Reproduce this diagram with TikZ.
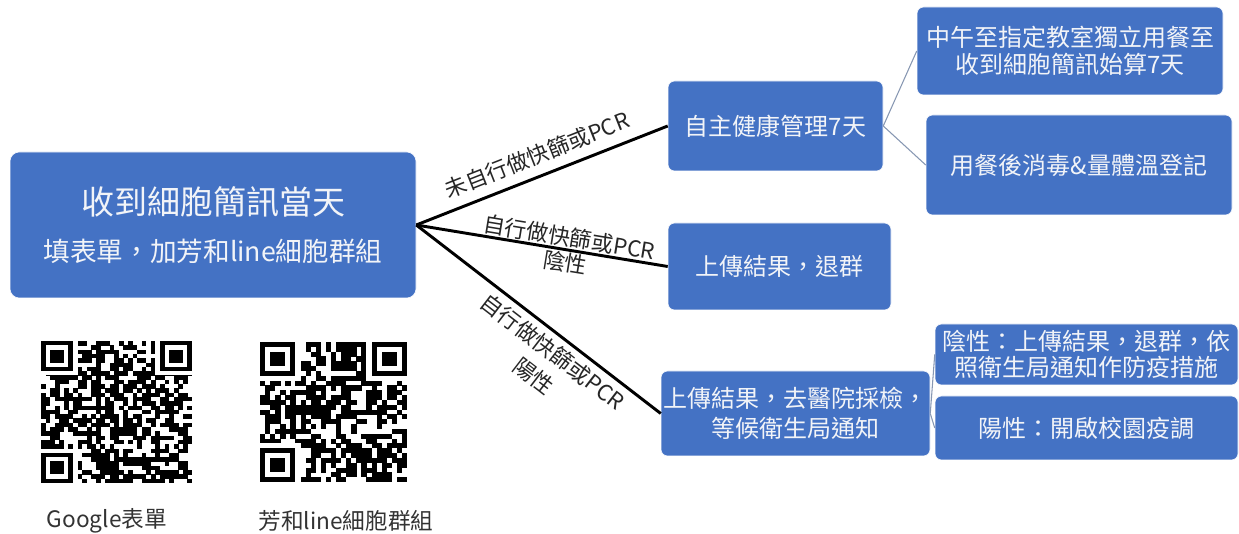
\documentclass[tikz,border=0pt]{standalone}
\usepackage{fontspec}
\setmainfont{Noto Sans CJK TC}
\usetikzlibrary{shapes.geometric, arrows}
\definecolor{boxblue}{HTML}{4472C4}
\definecolor{boxtext}{HTML}{F2F4F8}
\definecolor{twiggray}{HTML}{8797B2}
\tikzstyle{topic} = [rectangle, rounded corners=7pt, minimum width=304.5pt, minimum height=109.5pt, inner sep=1pt, align=center, draw=white, fill=boxblue, text=boxtext]
\tikzstyle{branch} = [rectangle, rounded corners=5pt, inner sep=1pt, align=center, draw=white, fill=boxblue, text=boxtext, font=\fontsize{18}{22}\selectfont]
\tikzstyle{link} = [line width=2.2pt, black]
\tikzstyle{twig} = [line width=0.8pt, twiggray]
\tikzstyle{cond} = [sloped, align=center, inner sep=2pt, font=\fontsize{16.5}{19}\selectfont, text=black!85]
\tikzstyle{caption} = [font=\fontsize{17}{20}\selectfont, text=black!80]

% qr-like block: x, y (top left), width, height, modules, seed
\newcommand{\qrcode}[6]{%
  \pgfmathsetlengthmacro{\qrmw}{#3*0.75pt/#5}
  \pgfmathsetlengthmacro{\qrmh}{#4*0.75pt/#5}
  \pgfmathtruncatemacro{\qrlast}{#5-1}
  \begin{scope}[shift={(#1,#2)}, x=\qrmw, y=-\qrmh]
    \pgfmathsetseed{#6}
    \foreach \qi in {0,...,\qrlast}
      \foreach \qj in {0,...,\qrlast} {
        \pgfmathtruncatemacro{\qbit}{rnd<0.56}
        \ifnum\qbit=1 \fill (\qi,\qj) rectangle ++(1.05,1.05); \fi
      }
    \foreach \qx/\qy in {0/0, #5-7/0, 0/#5-7} {
      \fill[white] (\qx-1,\qy-1) rectangle ++(9,9);
      \fill (\qx,\qy) rectangle ++(7,7);
      \fill[white] (\qx+1,\qy+1) rectangle ++(5,5);
      \fill (\qx+2,\qy+2) rectangle ++(3,3);
    }
  \end{scope}}

\begin{document}
\begin{tikzpicture}[x=0.75pt, y=-0.75pt]
\useasboundingbox (0,0) rectangle (1239,534);

\node (notice) [topic, font=\fontsize{20}{35}\selectfont] at (213,225) {{\fontsize{24.75}{35}\selectfont 收到細胞簡訊當天}\\填表單，加芳和line細胞群組};

\node (mgmt) [branch, minimum width=161.25pt, minimum height=67.5pt] at (775.5,126) {自主健康管理7天};
\node (lunch) [branch, minimum width=229.5pt, minimum height=66pt, font=\fontsize{18}{20}\selectfont] at (1070,51) {中午至指定教室獨立用餐至\\收到細胞簡訊始算7天};
\node (clean) [branch, minimum width=229.5pt, minimum height=75pt] at (1079,165) {用餐後消毒\&量體溫登記};
\node (quit) [branch, minimum width=167.25pt, minimum height=65.25pt] at (779.5,266.5) {上傳結果，退群};
\node (hosp) [branch, minimum width=201.75pt, minimum height=63.75pt, font=\fontsize{18}{22.5}\selectfont] at (795.5,413.5) {上傳結果，去醫院採檢，\\等候衛生局通知};
\node (hneg) [branch, minimum width=227.25pt, minimum height=45.75pt, font=\fontsize{18}{19}\selectfont] at (1086.5,354.5) {陰性：上傳結果，退群，依\\照衛生局通知作防疫措施};
\node (hpos) [branch, minimum width=227.25pt, minimum height=48pt] at (1086.5,428) {陽性：開啟校園疫調};

\draw [link] (notice.east) -- node[cond, above=5pt, pos=0.51] (c1) {未自行做快篩或PCR} (mgmt.west);
\draw [link] (notice.east) -- node[cond, pos=0.6] (c2) {自行做快篩或PCR\\陰性} (quit.west);
\draw [link] (notice.east) -- node[cond, below=2pt, pos=0.6, font=\fontsize{16.5}{23}\selectfont] (c3) {自行做快篩或PCR\\陽性} (hosp.west);

\draw [twig] (mgmt.east) -- (lunch.west);
\draw [twig] (mgmt.east) -- (clean.west);
\draw [twig] (hosp.east) -- (hneg.west);
\draw [twig] (hosp.east) -- (hpos.west);

% qr codes
\qrcode{41}{341}{151}{142}{33}{7}
\qrcode{260}{342}{147}{140}{29}{11}

\node (gcap) [caption] at (107,521) {Google表單};
\node (lcap) [caption] at (346,521) {芳和line細胞群組};

\end{tikzpicture}
\end{document}
